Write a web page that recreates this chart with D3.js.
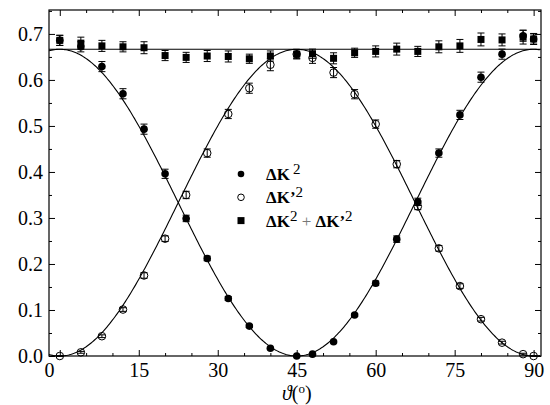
<!DOCTYPE html>
<html>
<head>
<meta charset="utf-8">
<script src="https://cdn.jsdelivr.net/npm/d3@7"></script>
</head>
<body style="margin:0">
<script>
// angles (deg) at which the three quantities were measured
const theta = [0, 4, 8, 12, 16, 20, 24, 28, 32, 36, 40, 45, 48, 52, 56, 60, 64, 68, 72, 76, 80, 84, 88, 90];
// ΔK^2 (filled circles)
const dK2 = [0.686, 0.672, 0.629, 0.570, 0.493, 0.396, 0.299, 0.212, 0.125, 0.065, 0.017, 0.000,
             0.004, 0.031, 0.089, 0.158, 0.254, 0.335, 0.441, 0.524, 0.606, 0.656, 0.696, 0.689];
const dK2Err = [0.011, 0.011, 0.011, 0.011, 0.011, 0.010, 0.007, 0.005, 0.004, 0.003, 0.002, 0.001,
                0.001, 0.002, 0.003, 0.005, 0.007, 0.008, 0.009, 0.010, 0.011, 0.011, 0.012, 0.011];
// ΔK'^2 (open circles)
const dKp2 = [0.000, 0.008, 0.043, 0.101, 0.175, 0.255, 0.350, 0.441, 0.526, 0.582, 0.633, 0.656,
              0.648, 0.616, 0.569, 0.504, 0.417, 0.325, 0.234, 0.152, 0.080, 0.029, 0.004, 0.000];
const dKp2Err = [0.001, 0.002, 0.003, 0.004, 0.006, 0.006, 0.008, 0.009, 0.010, 0.011, 0.013, 0.010,
                 0.012, 0.011, 0.010, 0.009, 0.008, 0.007, 0.006, 0.005, 0.004, 0.003, 0.002, 0.001];
// ΔK^2 + ΔK'^2 (squares)
const dSum = [0.686, 0.680, 0.674, 0.672, 0.670, 0.653, 0.649, 0.652, 0.651, 0.646, 0.652, 0.656,
              0.657, 0.647, 0.659, 0.662, 0.667, 0.662, 0.672, 0.674, 0.688, 0.687, 0.693, 0.689];
const dSumErr = [0.011, 0.013, 0.012, 0.011, 0.013, 0.011, 0.011, 0.012, 0.012, 0.010, 0.011, 0.010,
                 0.010, 0.012, 0.010, 0.012, 0.013, 0.011, 0.013, 0.014, 0.014, 0.013, 0.015, 0.012];

const xMajor = [0, 15, 30, 45, 60, 75, 90];
const xMinor = [5, 10, 20, 25, 35, 40, 50, 55, 65, 70, 80, 85];
const yMajor = [0, 0.1, 0.2, 0.3, 0.4, 0.5, 0.6, 0.7];
const yMinor = [0.05, 0.15, 0.25, 0.35, 0.45, 0.55, 0.65, 0.75];
const amp = 2 / 3; // theoretical maximum

const width = 550, height = 405;
const margin = { top: 10, right: 9, bottom: 49, left: 49 };
const iw = width - margin.left - margin.right;
const ih = height - margin.top - margin.bottom;
const serif = "Liberation Serif";

const x = d3.scaleLinear().domain([-2.05, 91.4]).range([0, iw]);
const y = d3.scaleLinear().domain([0, 0.752]).range([ih, 0]);

const svg = d3.select("body").append("svg")
  .attr("width", width)
  .attr("height", height)
  .style("display", "block");
const g = svg.append("g").attr("transform", `translate(${margin.left},${margin.top})`);

// fitted curves
const fineTheta = d3.range(x.domain()[0], x.domain()[1] + 0.01, 0.25);
const line = d3.line().x(d => x(d[0])).y(d => y(d[1]));
const rad = Math.PI / 180;
g.append("path")
  .attr("d", line(fineTheta.map(t => [t, amp * Math.cos(2 * t * rad) ** 2])))
  .attr("fill", "none").attr("stroke", "#000").attr("stroke-width", 1.1);
g.append("path")
  .attr("d", line(fineTheta.map(t => [t, amp * Math.sin(2 * t * rad) ** 2])))
  .attr("fill", "none").attr("stroke", "#000").attr("stroke-width", 1.1);
g.append("line")
  .attr("x1", 0).attr("x2", iw)
  .attr("y1", y(amp)).attr("y2", y(amp))
  .attr("stroke", "#000").attr("stroke-width", 1.1);

// error bars
function errorBars(vals, errs, cap) {
  const eb = g.append("g").attr("stroke", "#000").attr("stroke-width", 1);
  theta.forEach((t, i) => {
    const cx = x(t), lo = y(vals[i] - errs[i]), hi = y(vals[i] + errs[i]);
    eb.append("line").attr("x1", cx).attr("x2", cx).attr("y1", lo).attr("y2", hi);
    eb.append("line").attr("x1", cx - cap).attr("x2", cx + cap).attr("y1", lo).attr("y2", lo);
    eb.append("line").attr("x1", cx - cap).attr("x2", cx + cap).attr("y1", hi).attr("y2", hi);
  });
}
errorBars(dK2, dK2Err, 3.5);
errorBars(dKp2, dKp2Err, 3.5);
errorBars(dSum, dSumErr, 3.5);

// markers
g.selectAll(".filled").data(theta).enter().append("circle")
  .attr("cx", d => x(d)).attr("cy", (d, i) => y(dK2[i])).attr("r", 3.8)
  .attr("fill", "#000");
g.selectAll(".open").data(theta).enter().append("circle")
  .attr("cx", d => x(d)).attr("cy", (d, i) => y(dKp2[i])).attr("r", 3.8)
  .attr("fill", "none").attr("stroke", "#000").attr("stroke-width", 1);
g.selectAll(".sq").data(theta).enter().append("rect")
  .attr("x", d => x(d) - 3.5).attr("y", (d, i) => y(dSum[i]) - 3.5)
  .attr("width", 7).attr("height", 7).attr("fill", "#000");

// axes (inward ticks on all sides)
function styleAxis(sel) {
  sel.select(".domain").remove();
  sel.selectAll("line").attr("stroke", "#000").attr("stroke-width", 1);
  sel.selectAll("text")
    .attr("fill", "#000")
    .attr("font-family", serif)
    .attr("font-size", 20);
}
const bottom = g.append("g").attr("transform", `translate(0,${ih})`)
  .call(d3.axisBottom(x).tickValues(xMajor).tickSize(-6).tickPadding(7).tickFormat(d3.format("d")))
  .call(styleAxis);
// the "0" label sits at the left frame edge in the original
bottom.selectAll(".tick").filter(d => d === 0).select("text").attr("x", x(x.domain()[0]) - x(0));
g.append("g").attr("transform", `translate(0,${ih})`)
  .call(d3.axisBottom(x).tickValues(xMinor).tickSize(-3).tickFormat(""))
  .call(styleAxis);
g.append("g")
  .call(d3.axisTop(x).tickValues(xMajor).tickSize(-6).tickFormat(""))
  .call(styleAxis);
g.append("g")
  .call(d3.axisTop(x).tickValues(xMinor).tickSize(-3).tickFormat(""))
  .call(styleAxis);
g.append("g")
  .call(d3.axisLeft(y).tickValues(yMajor).tickSize(-6).tickPadding(6).tickFormat(d3.format(".1f")))
  .call(styleAxis);
g.append("g")
  .call(d3.axisLeft(y).tickValues(yMinor).tickSize(-3).tickFormat(""))
  .call(styleAxis);
g.append("g").attr("transform", `translate(${iw},0)`)
  .call(d3.axisRight(y).tickValues(yMajor).tickSize(-6).tickFormat(""))
  .call(styleAxis);
g.append("g").attr("transform", `translate(${iw},0)`)
  .call(d3.axisRight(y).tickValues(yMinor).tickSize(-3).tickFormat(""))
  .call(styleAxis);

// frame
g.append("rect")
  .attr("width", iw).attr("height", ih)
  .attr("fill", "none").attr("stroke", "#000").attr("stroke-width", 1.2);

// x-axis title
const xt = svg.append("text")
  .attr("x", margin.left + x(45)).attr("y", 400)
  .attr("text-anchor", "middle")
  .attr("font-family", serif)
  .attr("font-size", 20);
xt.append("tspan").attr("font-style", "italic").text("\u03D1");
xt.append("tspan").text("(");
xt.append("tspan").attr("dy", -7).attr("font-size", 13).text("o");
xt.append("tspan").attr("dy", 7).text(")");

// legend
const legend = svg.append("g").attr("transform", "translate(241,174)");
const rowH = 23.3;
legend.append("circle").attr("cx", 0).attr("cy", 0).attr("r", 3.3).attr("fill", "#000");
legend.append("circle").attr("cx", 0).attr("cy", rowH).attr("r", 3.3)
  .attr("fill", "none").attr("stroke", "#000");
legend.append("rect").attr("x", -3.5).attr("y", 2 * rowH - 3.5).attr("width", 7).attr("height", 7).attr("fill", "#000");

function legText(row, parts) {
  const t = legend.append("text")
    .attr("x", 25).attr("y", row * rowH + 6)
    .attr("font-family", serif)
    .attr("font-size", 17);
  parts.forEach(p => {
    const s = t.append("tspan").text(p.t);
    if (p.b) s.attr("font-weight", "bold");
    if (p.dy) s.attr("dy", p.dy);
    if (p.sz) s.attr("font-size", p.sz);
    if (p.c) s.attr("fill", p.c);
  });
}
legText(0, [{ t: "\u0394K", b: true }, { t: "\u20092", dy: -6, sz: 15 }]);
legText(1, [{ t: "\u0394K", b: true }, { t: "\u2019", b: true }, { t: "2", dy: -6, sz: 15 }]);
legText(2, [{ t: "\u0394K", b: true }, { t: "2", dy: -6, sz: 15 }, { t: " + ", dy: 6, c: "#777" },
            { t: "\u0394K", b: true }, { t: "\u2019", b: true }, { t: "2", dy: -6, sz: 15 }]);
</script>
</body>
</html>
